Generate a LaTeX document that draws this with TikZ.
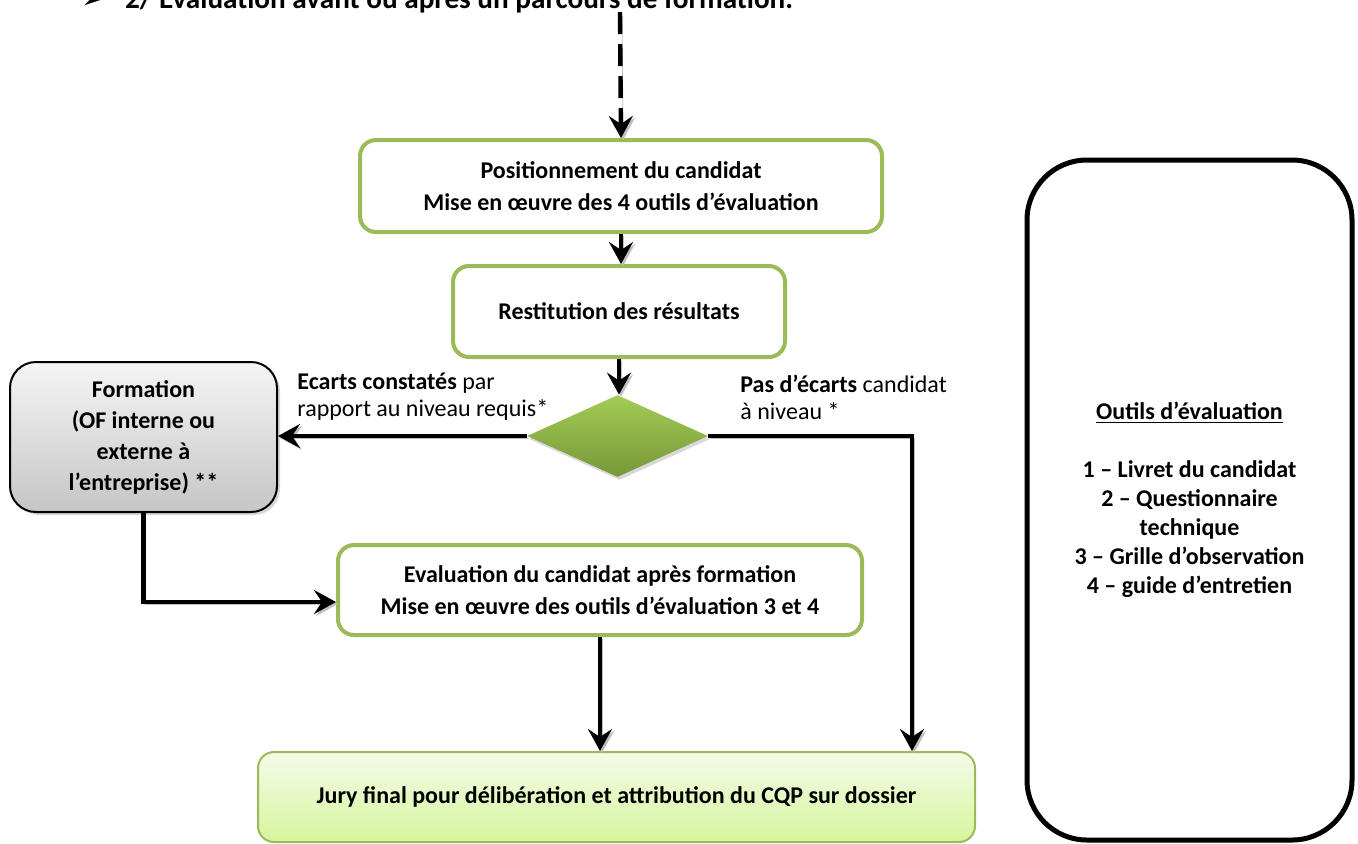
\documentclass[tikz,border=0pt]{standalone}
\usepackage{fontspec}
\setmainfont{Carlito}
\newfontfamily\symbfont{DejaVu Sans}
\usetikzlibrary{arrows.meta, shapes.geometric, shadows}

\definecolor{vertbord}{HTML}{9BBB59}
\definecolor{vertclair}{HTML}{A3CC55}
\definecolor{vertfonce}{HTML}{76973A}
\definecolor{juryhaut}{HTML}{F5FBEA}
\definecolor{jurybas}{HTML}{D6F59C}

\begin{document}
\begin{tikzpicture}[%
        x = 0.5pt, y = -0.5pt,
        every node/.style = {font = \bfseries\fontsize{12}{16}\selectfont},
        etape/.style = {%
          draw = vertbord,
          line width = 2pt,
          rounded corners = 8pt,
          fill = white,
          align = center,
          inner sep = 0pt,
        },
        decision/.style = {%
          diamond,
          inner sep = 0pt,
          minimum width = 90.5pt,
          minimum height = 41pt,
          top color = vertclair,
          bottom color = vertfonce,
          drop shadow = {shadow xshift = 1pt, shadow yshift = -1.5pt, fill = gray!60},
        },
        formation/.style = {%
          draw = black,
          line width = 1pt,
          rounded corners = 13pt,
          top color = gray!8,
          bottom color = gray!45,
          align = center,
          inner sep = 0pt,
          font = \bfseries\fontsize{12}{15.5}\selectfont,
          drop shadow = {shadow xshift = 1.5pt, shadow yshift = -1.5pt, fill = gray!60},
        },
        jury/.style = {%
          draw = vertbord,
          line width = 1pt,
          rounded corners = 8pt,
          top color = juryhaut,
          bottom color = jurybas,
          inner sep = 0pt,
        },
        outils/.style = {%
          draw = black,
          line width = 2.5pt,
          rounded corners = 30pt,
          align = center,
          inner sep = 0pt,
          font = \bfseries\fontsize{12}{14.5}\selectfont,
        },
        remarque/.style = {%
          align = left,
          inner sep = 0pt,
          font = \fontsize{12}{13.5}\selectfont,
        },
        fleche/.style = {%
          line width = 2.2pt,
          -{Stealth[length = 11pt, width = 12pt, inset = 4pt]},
          preaction = {draw = gray!50, transform canvas = {xshift = 1pt, yshift = -1pt}},
        },
        pointilles/.style = {%
          fleche,
          dash pattern = on 11pt off 5pt,
        },
      ]
      \useasboundingbox (0,0) rectangle (1358,843);

      \node[anchor = base west, font = \symbfont\fontsize{14.6}{16}\selectfont] (puce) at (74,8) {➢};
      \node[anchor = base west, font = \bfseries\fontsize{14.6}{16}\selectfont] (titre) at (118,8) {2/ Evaluation avant ou après un parcours de formation.};

      \node[etape, minimum width = 261pt, minimum height = 46pt] (position) at (621,186) {Positionnement du candidat\\Mise en œuvre des 4 outils d’évaluation};
      \node[etape, minimum width = 166pt, minimum height = 45.5pt] (restitution) at (619,311.5) {Restitution des résultats};
      \node[decision] (ecart) at (617.5,436) {};
      \node[formation, minimum width = 133.5pt, minimum height = 75pt] (formation) at (143.5,437) {Formation\\(OF interne ou\\externe à\\l’entreprise) **};
      \node[etape, minimum width = 262pt, minimum height = 45pt] (evaluation) at (600,590) {Evaluation du candidat après formation\\Mise en œuvre des outils d’évaluation 3 et 4};
      \node[jury, minimum width = 358.5pt, minimum height = 45pt] (final) at (616.5,797) {Jury final pour délibération et attribution du CQP sur dossier};
      \node[outils, minimum width = 162.5pt, minimum height = 340pt] (liste) at (1189.5,500) {\underline{Outils d’évaluation}\\[14.5pt]1 – Livret du candidat\\2 – Questionnaire\\technique\\3 – Grille d’observation\\4 – guide d’entretien};

      \node[remarque, anchor = west] (oui) at (297,397) {\textbf{Ecarts constatés} par\\rapport au niveau requis*};
      \node[remarque, anchor = west] (non) at (740,397) {\textbf{Pas d’écarts} candidat\\à niveau *};

      \coordinate (depart) at (620,12);
      \coordinate (coin) at (912,436);

      \draw[pointilles] (depart) -- (position.north);
      \draw[fleche] (position.south) -- (position.south |- restitution.north);
      \draw[fleche] (restitution.south) -- (restitution.south |- ecart.north);
      \draw[fleche] (ecart.west) -- (ecart.west -| formation.east);
      \draw[fleche] (ecart.east) -- (coin) -- (coin |- final.north);
      \draw[fleche] (formation.south) |- ([yshift = -6pt]evaluation.west);
      \draw[fleche] (evaluation.south) -- (evaluation.south |- final.north);
    \end{tikzpicture}
\end{document}
